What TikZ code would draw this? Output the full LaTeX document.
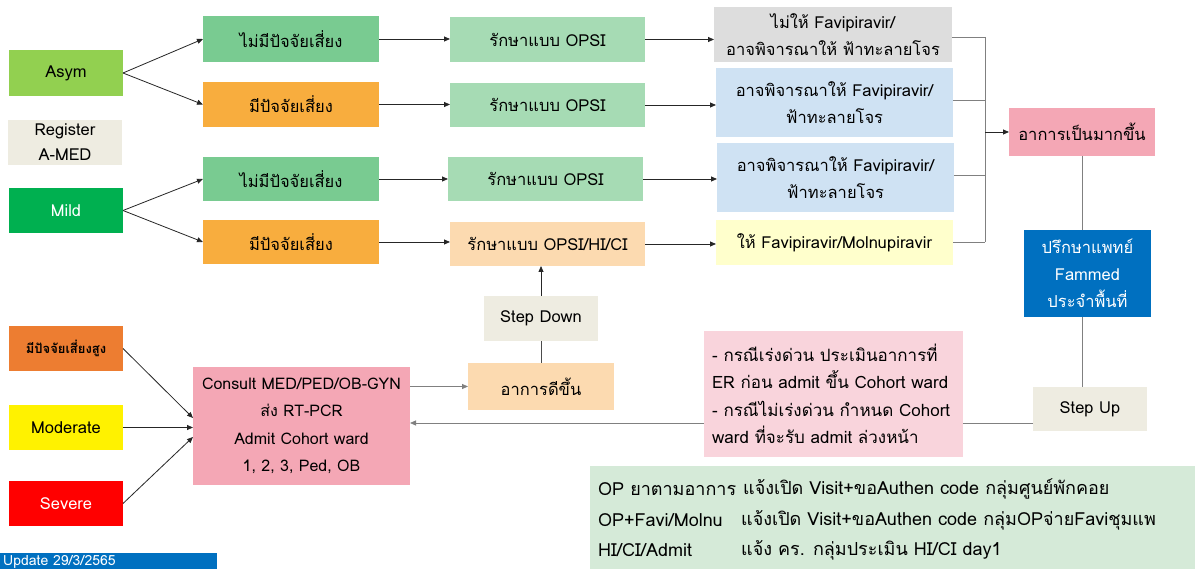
\documentclass[tikz,border=0pt]{standalone}
\usepackage{fontspec}
\setmainfont[Script=Thai]{Loma}
\usetikzlibrary{arrows.meta,calc}
\definecolor{asymc}{RGB}{146,208,80}
\definecolor{regc}{RGB}{238,236,225}
\definecolor{mildc}{RGB}{0,176,80}
\definecolor{noriskc}{RGB}{121,203,145}
\definecolor{riskc}{RGB}{248,173,62}
\definecolor{opsic}{RGB}{166,219,180}
\definecolor{peachc}{RGB}{252,218,176}
\definecolor{grayc}{RGB}{221,221,221}
\definecolor{lbluec}{RGB}{207,226,243}
\definecolor{lyellowc}{RGB}{255,255,204}
\definecolor{pinkc}{RGB}{244,167,181}
\definecolor{bluec}{RGB}{0,112,192}
\definecolor{hriskc}{RGB}{237,125,49}
\definecolor{notec}{RGB}{249,212,220}
\definecolor{bgreenc}{RGB}{213,234,216}
\definecolor{linec}{RGB}{128,128,128}
\begin{document}
\begin{tikzpicture}[x=1pt,y=-1pt,
  box/.style={inner sep=0pt, outer sep=0pt, font=\fontsize{16.5}{27}\selectfont, align=center, text=black},
  arr/.style={-{Triangle[length=6pt,width=5pt]}, line width=0.8pt, draw=black!85},
  ln/.style={line width=0.8pt, draw=linec},
  txt/.style={inner sep=0pt, font=\fontsize{18}{27}\selectfont, anchor=west, text=black}]
\useasboundingbox (0,0) rectangle (1195,569);
\fill[white] (0,0) rectangle (1195,569);

% left categories
\node[box, fill=asymc, minimum width=114, minimum height=46] (asym) at (66,73) {Asym};
\node[box, fill=regc, minimum width=114, minimum height=45, font=\fontsize{16.5}{25}\selectfont] (reg) at (65,142.5) {Register\\A-MED};
\node[box, fill=mildc, text=white, minimum width=114, minimum height=45] (mild) at (66,210.5) {Mild};

% risk boxes
\node[box, fill=noriskc, minimum width=176, minimum height=46] (nr1) at (291,39) {ไม่มีปัจจัยเสี่ยง};
\node[box, fill=riskc, minimum width=176, minimum height=45] (r1) at (291,104.5) {มีปัจจัยเสี่ยง};
\node[box, fill=noriskc, minimum width=176, minimum height=44] (nr2) at (291,179) {ไม่มีปัจจัยเสี่ยง};
\node[box, fill=riskc, minimum width=176, minimum height=44] (r2) at (291,242) {มีปัจจัยเสี่ยง};

% treatment boxes
\node[box, fill=opsic, minimum width=195, minimum height=45] (o1) at (547.5,39.5) {รักษาแบบ OPSI};
\node[box, fill=opsic, minimum width=195, minimum height=44] (o2) at (547.5,105) {รักษาแบบ OPSI};
\node[box, fill=opsic, minimum width=195, minimum height=44] (o3) at (545.5,179) {รักษาแบบ OPSI};
\node[box, fill=peachc, minimum width=195, minimum height=44] (o4) at (547.5,244) {รักษาแบบ OPSI/HI/CI};

% drug boxes
\node[box, fill=grayc, minimum width=238, minimum height=55] (d1) at (833,34.5) {ไม่ให้ Favipiravir/\\อาจพิจารณาให้ ฟ้าทะลายโจร};
\node[box, fill=lbluec, minimum width=237, minimum height=69] (d2) at (834.5,102.5) {อาจพิจารณาให้ Favipiravir/\\ฟ้าทะลายโจร};
\node[box, fill=lbluec, minimum width=237, minimum height=69] (d3) at (835.5,177.5) {อาจพิจารณาให้ Favipiravir/\\ฟ้าทะลายโจร};
\node[box, fill=lyellowc, minimum width=237, minimum height=45] (d4) at (834.5,242.5) {ให้ Favipiravir/Molnupiravir};

% right column
\node[box, fill=pinkc, minimum width=146, minimum height=48] (worse) at (1082,132) {อาการเป็นมากขึ้น};
\node[box, fill=bluec, text=white, minimum width=127, minimum height=87] (fam) at (1087.5,273.5) {ปรึกษาแพทย์\\Fammed\\ประจำพื้นที่};
\node[box, fill=regc, minimum width=114, minimum height=44] (stepup) at (1090,409) {Step Up};

% lower-left
\node[box, fill=hriskc, minimum width=114, minimum height=45, font=\fontsize{13}{15}\selectfont\bfseries] (hr) at (66,348.5) {มีปัจจัยเสี่ยงสูง};
\node[box, fill=yellow, minimum width=114, minimum height=45] (mod) at (66,427.5) {Moderate};
\node[box, fill=red, text=white, minimum width=114, minimum height=45] (sev) at (66,503.5) {Severe};

\node[box, fill=pinkc, minimum width=217, minimum height=118, font=\fontsize{16}{27.5}\selectfont] (consult) at (301.5,426) {Consult MED/PED/OB-GYN\\ส่ง RT-PCR\\Admit Cohort ward\\1, 2, 3, Ped, OB};
\node[box, fill=peachc, minimum width=146, minimum height=47] (better) at (541,386.5) {อาการดีขึ้น};
\node[box, fill=regc, minimum width=114, minimum height=45] (stepdown) at (541,318.5) {Step Down};

% step up -> consult line (behind the note)
\coordinate (upl) at ($(stepup.west)+(0,14)$);
\draw[arr, draw=linec] (upl) -- (consult.east |- upl);

\node[box, fill=notec, minimum width=259, minimum height=126] (note) at (833.5,394) {};
\node[txt, align=left, font=\fontsize{17}{27.5}\selectfont] (notetext) at (712,394) {- กรณีเร่งด่วน ประเมินอาการที่\\ER ก่อน admit ขึ้น Cohort ward\\- กรณีไม่เร่งด่วน กำหนด Cohort\\ward ที่จะรับ admit ล่วงหน้า};

% bottom green box
\fill[bgreenc] (590,466) rectangle (1195,569);
\node[txt] (g1a) at (598,489) {OP ยาตามอาการ};
\node[txt] (g1b) at (743,489) {แจ้งเปิด Visit+ขอAuthen code กลุ่มศูนย์พักคอย};
\node[txt] (g2a) at (598,520) {OP+Favi/Molnu};
\node[txt] (g2b) at (741,520) {แจ้งเปิด Visit+ขอAuthen code กลุ่มOPจ่ายFaviชุมแพ};
\node[txt] (g3a) at (598,550) {HI/CI/Admit};
\node[txt] (g3b) at (741,550) {แจ้ง คร. กลุ่มประเมิน HI/CI day1};

% update label
\fill[bluec] (0,553) rectangle (217,569);
\node[txt, text=white, font=\fontsize{14}{15}\selectfont, anchor=base west] (upd) at (3,565) {Update 29/3/2565};

% arrows top
\draw[arr] (asym.east) -- (nr1.west);
\draw[arr] (asym.east) -- (r1.west);
\draw[arr] (mild.east) -- (nr2.west);
\draw[arr] (mild.east) -- (r2.west);
\draw[arr] (nr1.east) -- (nr1.east -| o1.west);
\draw[arr] (r1.east) -- (r1.east -| o2.west);
\draw[arr] (nr2.east) -- (nr2.east -| o3.west);
\draw[arr] (r2.east) -- (r2.east -| o4.west);
\draw[arr] (o1.east) -- (o1.east -| d1.west);
\draw[arr] (o2.east) -- (o2.east -| d2.west);
\draw[arr] (o3.east) -- (o3.east -| d3.west);
\draw[arr] (o4.east) -- (o4.east -| d4.west);

% bracket
\coordinate (b1) at (985,37);
\coordinate (b2) at (985,100);
\coordinate (b3) at (985,175);
\coordinate (b4) at (985,242);
\coordinate (bm) at (985,132);
\draw[ln] (d1.east |- b1) -- (b1);
\draw[ln] (d2.east |- b2) -- (b2);
\draw[ln] (d3.east |- b3) -- (b3);
\draw[ln] (d4.east |- b4) -- (b4);
\draw[ln] (b1) -- (b4);
\draw[arr] (bm) -- (worse.west);

% right vertical
\draw[ln] (worse.south) -- (worse.south |- fam.north);
\draw[ln] (fam.south -| worse.south) -- (stepup.north -| worse.south);

% lower-left arrows
\draw[arr] (hr.east) -- ($(consult.west)+(0,-8)$);
\draw[arr] (mod.east) -- (mod.east -| consult.west);
\draw[arr] (sev.east) -- ($(consult.west)+(0,11)$);

% consult -> better -> step down -> o4
\draw[arr, draw=linec] (consult.east |- better.west) -- (better.west);
\draw[ln, draw=black!70] (better.north) -- (stepdown.south);
\draw[arr] (stepdown.north) -- (stepdown.north |- o4.south);
\end{tikzpicture}
\end{document}
